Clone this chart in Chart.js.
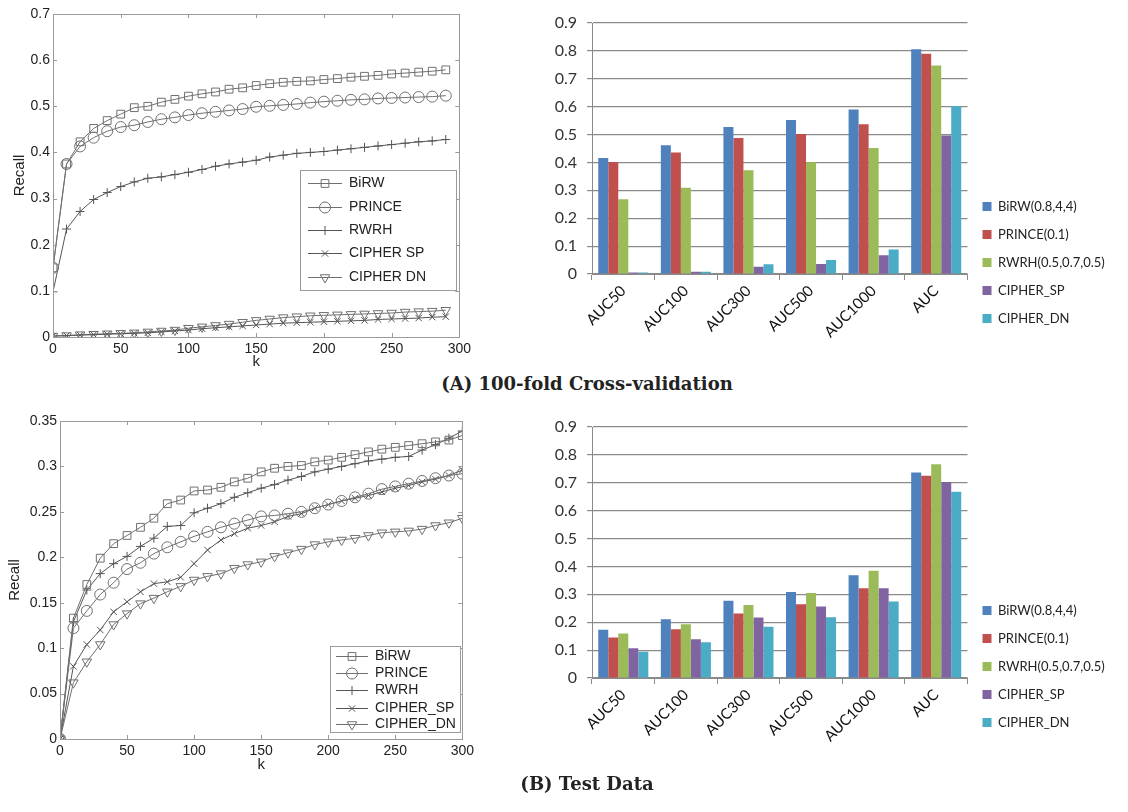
<!DOCTYPE html>
<html>
<head>
<meta charset="utf-8">
<script src="https://cdn.jsdelivr.net/npm/chart.js@4.4.0/dist/chart.umd.min.js"></script>
<style>
  body { margin: 0; background: #fff; width: 1128px; height: 812px; position: relative; overflow: hidden; }
  .box { position: absolute; }
  .cap { position: absolute; left: 287px; width: 600px; text-align: center; font-family: "DejaVu Serif", serif;
         font-weight: bold; font-size: 18px; line-height: 18px; color: #222; }
</style>
</head>
<body>
<div class="box" style="left:0;top:0;width:475px;height:372px"><canvas id="lineA"></canvas></div>
<div class="box" style="left:540px;top:0;width:588px;height:360px"><canvas id="barA"></canvas></div>
<div class="cap" style="top:375px">(A) 100-fold Cross-validation</div>
<div class="box" style="left:0;top:405px;width:478px;height:370px"><canvas id="lineB"></canvas></div>
<div class="box" style="left:540px;top:404px;width:588px;height:360px"><canvas id="barB"></canvas></div>
<div class="cap" style="top:775px">(B) Test Data</div>

<script>
// ---- line charts: recall vs k ----
const kA = [0, 10, 20, 30, 40, 50, 60, 70, 80, 90, 100, 110, 120, 130, 140, 150, 160, 170, 180, 190,
            200, 210, 220, 230, 240, 250, 260, 270, 280, 290];
const birwA = [0.150, 0.375, 0.423, 0.452, 0.469, 0.483, 0.497, 0.500, 0.509, 0.515, 0.522, 0.527, 0.531, 0.537, 0.540,
               0.545, 0.549, 0.552, 0.554, 0.555, 0.558, 0.560, 0.563, 0.565, 0.567, 0.570, 0.572, 0.574, 0.576, 0.579];
const princeA = [0.150, 0.375, 0.413, 0.432, 0.446, 0.455, 0.459, 0.466, 0.472, 0.476, 0.481, 0.485, 0.488, 0.491, 0.494,
                 0.499, 0.501, 0.503, 0.505, 0.508, 0.510, 0.512, 0.514, 0.515, 0.517, 0.518, 0.519, 0.520, 0.521, 0.523];
const rwrhA = [0.098, 0.234, 0.272, 0.298, 0.313, 0.326, 0.336, 0.344, 0.347, 0.352, 0.357, 0.363, 0.370, 0.375, 0.379,
               0.383, 0.390, 0.394, 0.398, 0.400, 0.402, 0.405, 0.408, 0.411, 0.414, 0.417, 0.420, 0.423, 0.425, 0.428];
const cipherSpA = [0.002, 0.003, 0.004, 0.005, 0.006, 0.007, 0.008, 0.009, 0.011, 0.013, 0.015, 0.018, 0.020, 0.022, 0.024,
                   0.026, 0.028, 0.030, 0.031, 0.032, 0.033, 0.034, 0.035, 0.036, 0.038, 0.039, 0.040, 0.041, 0.043, 0.044];
const cipherDnA = [0.002, 0.003, 0.005, 0.006, 0.007, 0.008, 0.009, 0.011, 0.013, 0.015, 0.019, 0.022, 0.025, 0.028, 0.032,
                   0.036, 0.039, 0.042, 0.044, 0.046, 0.047, 0.048, 0.049, 0.050, 0.051, 0.052, 0.054, 0.055, 0.056, 0.058];

const kB = [0, 10, 20, 30, 40, 50, 60, 70, 80, 90, 100, 110, 120, 130, 140, 150, 160, 170, 180, 190,
            200, 210, 220, 230, 240, 250, 260, 270, 280, 290, 300];
const birwB = [0, 0.133, 0.170, 0.199, 0.215, 0.224, 0.233, 0.243, 0.259, 0.263, 0.273, 0.274, 0.277, 0.283, 0.287, 0.294,
               0.298, 0.300, 0.301, 0.305, 0.307, 0.310, 0.313, 0.316, 0.319, 0.321, 0.323, 0.325, 0.327, 0.329, 0.334];
const princeB = [0, 0.122, 0.141, 0.159, 0.172, 0.187, 0.194, 0.204, 0.211, 0.217, 0.223, 0.228, 0.233, 0.237, 0.241, 0.245,
                 0.246, 0.248, 0.250, 0.254, 0.258, 0.262, 0.266, 0.270, 0.275, 0.278, 0.281, 0.284, 0.287, 0.290, 0.292];
const rwrhB = [0, 0.129, 0.164, 0.182, 0.193, 0.201, 0.212, 0.221, 0.234, 0.235, 0.249, 0.254, 0.259, 0.266, 0.271, 0.276,
               0.280, 0.285, 0.289, 0.294, 0.297, 0.300, 0.303, 0.306, 0.308, 0.310, 0.311, 0.318, 0.324, 0.331, 0.339];
const cipherSpB = [0, 0.080, 0.104, 0.120, 0.140, 0.151, 0.162, 0.171, 0.173, 0.178, 0.193, 0.208, 0.219, 0.226, 0.232, 0.235,
                   0.239, 0.245, 0.248, 0.254, 0.258, 0.262, 0.265, 0.268, 0.272, 0.276, 0.279, 0.283, 0.286, 0.290, 0.296];
const cipherDnB = [0, 0.062, 0.085, 0.104, 0.126, 0.138, 0.149, 0.155, 0.162, 0.168, 0.175, 0.179, 0.182, 0.188, 0.192, 0.195,
                   0.201, 0.205, 0.209, 0.214, 0.217, 0.219, 0.221, 0.224, 0.227, 0.228, 0.229, 0.231, 0.235, 0.238, 0.243];

// ---- bar charts: AUC values ----
const aucLabels = ['AUC50', 'AUC100', 'AUC300', 'AUC500', 'AUC1000', 'AUC'];
const barNames = ['BiRW(0.8,4,4)', 'PRINCE(0.1)', 'RWRH(0.5,0.7,0.5)', 'CIPHER_SP', 'CIPHER_DN'];
const barColors = ['#4f81bd', '#c0504d', '#9bbb59', '#8064a2', '#4bacc6'];

const cvBirw = [0.416, 0.462, 0.527, 0.552, 0.590, 0.806];
const cvPrince = [0.402, 0.436, 0.488, 0.502, 0.537, 0.790];
const cvRwrh = [0.268, 0.309, 0.372, 0.401, 0.452, 0.748];
const cvCipherSp = [0.005, 0.008, 0.026, 0.036, 0.067, 0.497];
const cvCipherDn = [0.005, 0.008, 0.035, 0.050, 0.088, 0.602];

const testBirw = [0.173, 0.211, 0.277, 0.308, 0.368, 0.737];
const testPrince = [0.145, 0.175, 0.231, 0.264, 0.322, 0.725];
const testRwrh = [0.160, 0.193, 0.262, 0.305, 0.385, 0.766];
const testCipherSp = [0.107, 0.139, 0.217, 0.256, 0.322, 0.703];
const testCipherDn = [0.094, 0.128, 0.184, 0.218, 0.274, 0.668];

const fmt = v => String(+Number(v).toFixed(2));

// box, inside ticks and legend in the matlab style
const matlabBox = {
  id: 'matlabBox',
  afterDraw(chart, args, opts) {
    const { ctx, chartArea: a } = chart;
    const x = chart.scales.x, y = chart.scales.y;
    ctx.save();
    ctx.strokeStyle = '#9a9a9a';
    ctx.lineWidth = 1;
    ctx.strokeRect(Math.round(a.left) + 0.5, Math.round(a.top) + 0.5, Math.round(a.width), Math.round(a.height));
    ctx.beginPath();
    x.ticks.forEach(t => {
      const px = Math.round(x.getPixelForValue(t.value)) + 0.5;
      ctx.moveTo(px, a.bottom); ctx.lineTo(px, a.bottom - 4);
      ctx.moveTo(px, a.top); ctx.lineTo(px, a.top + 4);
    });
    y.ticks.forEach(t => {
      const py = Math.round(y.getPixelForValue(t.value)) + 0.5;
      ctx.moveTo(a.left, py); ctx.lineTo(a.left + 4, py);
      ctx.moveTo(a.right, py); ctx.lineTo(a.right - 4, py);
    });
    ctx.stroke();

    const lg = opts.legend;
    if (lg) {
      ctx.fillStyle = '#fff';
      ctx.fillRect(lg.left, lg.top, lg.right - lg.left, lg.bottom - lg.top);
      ctx.strokeStyle = '#9a9a9a';
      ctx.strokeRect(lg.left + 0.5, lg.top + 0.5, lg.right - lg.left, lg.bottom - lg.top);
      ctx.font = '14px "Liberation Sans", Arial, sans-serif';
      ctx.textBaseline = 'middle';
      chart.data.datasets.forEach((ds, i) => {
        const ry = lg.rows[i] + 0.5;
        ctx.strokeStyle = ds.borderColor;
        ctx.lineWidth = 1;
        ctx.beginPath();
        ctx.moveTo(lg.lineX1, ry); ctx.lineTo(lg.lineX2, ry);
        ctx.stroke();
        ctx.fillStyle = 'rgba(0,0,0,0)';
        Chart.helpers.drawPoint(ctx, {
          pointStyle: ds.pointStyle, radius: ds.pointRadius,
          rotation: ds.pointRotation || 0, borderWidth: 1
        }, (lg.lineX1 + lg.lineX2) / 2, ry);
        ctx.fillStyle = '#222';
        ctx.fillText(ds.label, lg.textX, ry);
      });
    }
    ctx.restore();
  }
};

function lineSet(label, ks, vals, style, radius, rot, color) {
  return {
    label: label,
    data: ks.map((k, i) => ({ x: k, y: vals[i] })),
    borderColor: color, borderWidth: 1,
    pointStyle: style, pointRadius: radius, pointRotation: rot,
    pointBorderColor: color, pointBackgroundColor: 'rgba(0,0,0,0)', pointBorderWidth: 1,
    tension: 0
  };
}

function lineChart(id, datasets, yMax, yStep, leftW, xAxisH, pad, titlePadY, legend) {
  const tickFont = { family: '"Liberation Sans", Arial, sans-serif', size: 14 };
  const titleFont = { family: '"Liberation Sans", Arial, sans-serif', size: 15 };
  return new Chart(document.getElementById(id), {
    type: 'line',
    data: { datasets: datasets },
    plugins: [matlabBox],
    options: {
      responsive: true, maintainAspectRatio: false, animation: false,
      layout: { padding: pad },
      plugins: { legend: { display: false }, tooltip: { enabled: false }, matlabBox: { legend: legend } },
      scales: {
        x: {
          type: 'linear', min: 0, max: 300,
          grid: { display: false, drawTicks: false }, border: { display: false },
          ticks: { stepSize: 50, font: tickFont, color: '#222', padding: 4, maxRotation: 0, callback: fmt },
          title: { display: true, text: 'k', font: titleFont, color: '#222', padding: { top: 0, bottom: 1 } },
          afterFit: s => { s.height = xAxisH; }
        },
        y: {
          min: 0, max: yMax,
          grid: { display: false, drawTicks: false }, border: { display: false },
          ticks: { stepSize: yStep, font: tickFont, color: '#222', padding: 3, callback: fmt },
          title: { display: true, text: 'Recall', font: titleFont, color: '#222', padding: { top: titlePadY, bottom: 0 } },
          afterFit: s => { s.width = leftW; }
        }
      }
    }
  });
}

const grey = '#707070', dark = '#555';

lineChart('lineA', [
  lineSet('BiRW', kA, birwA, 'rect', 5.5, 0, grey),
  lineSet('PRINCE', kA, princeA, 'circle', 5.5, 0, grey),
  lineSet('RWRH', kA, rwrhA, 'cross', 4.5, 0, dark),
  lineSet('CIPHER SP', kA, cipherSpA, 'crossRot', 4.5, 0, dark),
  lineSet('CIPHER DN', kA, cipherDnA, 'triangle', 5.5, 180, grey)
], 0.7, 0.1, 53, 35, { left: 0, top: 14, right: 12, bottom: 0 }, 11,
  { left: 300, top: 170, right: 456, bottom: 290, rows: [183, 207, 230, 253, 277], lineX1: 308, lineX2: 342, textX: 349 });

lineChart('lineB', [
  lineSet('BiRW', kB, birwB, 'rect', 5.5, 0, grey),
  lineSet('PRINCE', kB, princeB, 'circle', 5.5, 0, grey),
  lineSet('RWRH', kB, rwrhB, 'cross', 4.5, 0, dark),
  lineSet('CIPHER_SP', kB, cipherSpB, 'crossRot', 4.5, 0, dark),
  lineSet('CIPHER_DN', kB, cipherDnB, 'triangle', 5.5, 180, grey)
], 0.35, 0.05, 60, 36, { left: 0, top: 16, right: 12, bottom: 0 }, 6,
  { left: 330, top: 241, right: 460, bottom: 327, rows: [251, 268, 285, 303, 319], lineX1: 336, lineX2: 368, textX: 375 });

function barChart(id, series) {
  const font = { family: 'Lato, "Open Sans", sans-serif', size: 15 };
  return new Chart(document.getElementById(id), {
    type: 'bar',
    data: {
      labels: aucLabels,
      datasets: series.map((vals, i) => ({
        label: barNames[i], data: vals, backgroundColor: barColors[i],
        categoryPercentage: 0.8, barPercentage: 1.0
      }))
    },
    options: {
      responsive: true, maintainAspectRatio: false, animation: false,
      layout: { padding: { left: 0, top: 23, right: 18, bottom: 20 } },
      plugins: {
        tooltip: { enabled: false },
        legend: {
          position: 'right', align: 'end',
          labels: { boxWidth: 9, boxHeight: 9, padding: 15, color: '#222', font: { family: font.family, size: 13 } }
        }
      },
      scales: {
        x: {
          grid: { offset: true, drawOnChartArea: false, tickLength: 6, color: '#8a8a8a' },
          border: { color: '#8a8a8a' },
          ticks: { minRotation: 45, maxRotation: 45, color: '#111', font: font, padding: 2 },
          afterFit: s => { s.height = 66; }
        },
        y: {
          min: 0, max: 0.9,
          grid: { color: '#8a8a8a', lineWidth: 1.2, tickLength: 5 },
          border: { color: '#8a8a8a' },
          ticks: { stepSize: 0.1, color: '#333', font: { family: font.family, size: 16 }, padding: 10, callback: fmt },
          afterFit: s => { s.width = 52; }
        }
      }
    }
  });
}

barChart('barA', [cvBirw, cvPrince, cvRwrh, cvCipherSp, cvCipherDn]);
barChart('barB', [testBirw, testPrince, testRwrh, testCipherSp, testCipherDn]);
</script>
</body>
</html>
